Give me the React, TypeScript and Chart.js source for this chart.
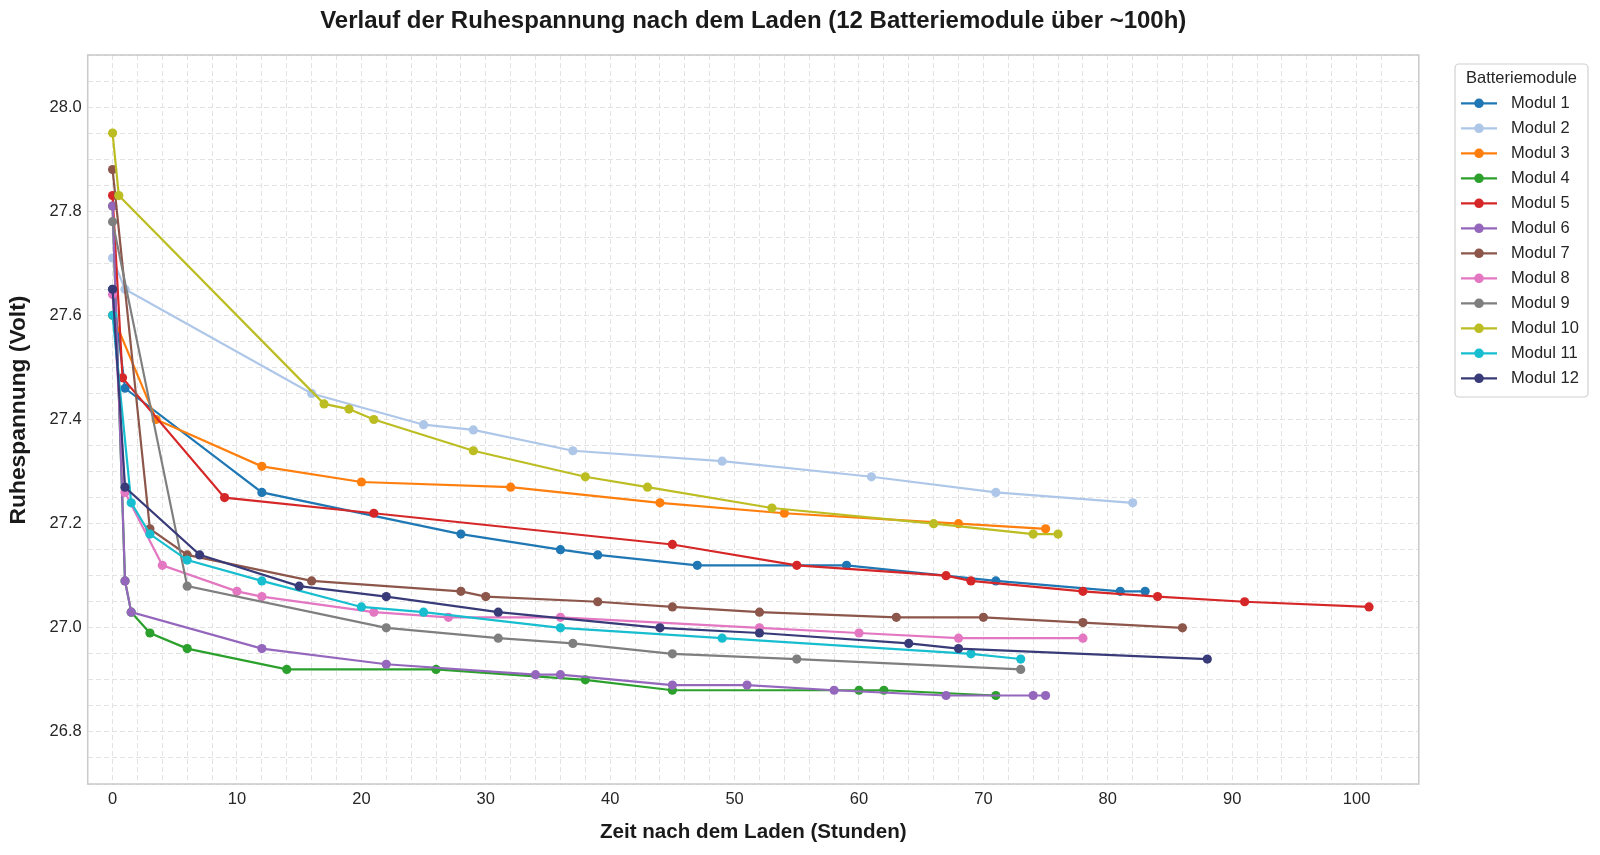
import React, { useEffect, useRef } from 'react';
import { Chart, registerables } from 'chart.js';

Chart.register(...registerables);

const FONT = '"Liberation Sans", Arial, sans-serif';
const TITLE = 'Verlauf der Ruhespannung nach dem Laden (12 Batteriemodule über ~100h)';
const X_TITLE = 'Zeit nach dem Laden (Stunden)';
const Y_TITLE = 'Ruhespannung (Volt)';
const LEGEND_TITLE = 'Batteriemodule';

const modulNames = [
    'Modul 1', 'Modul 2', 'Modul 3', 'Modul 4', 'Modul 5', 'Modul 6',
    'Modul 7', 'Modul 8', 'Modul 9', 'Modul 10', 'Modul 11', 'Modul 12',
];
const modulColors = [
    '#1f77b4', '#aec7e8', '#ff7f0e', '#2ca02c', '#d62728', '#9467bd',
    '#8c564b', '#e377c2', '#7f7f7f', '#bcbd22', '#17becf', '#393b79',
];

// hours after charging / rest voltage, per module
const modul1Hours = [0, 1, 12, 28, 36, 39, 47, 59, 71, 81, 83];
const modul1Volts = [27.65, 27.46, 27.26, 27.18, 27.15, 27.14, 27.12, 27.12, 27.09, 27.07, 27.07];

const modul2Hours = [0, 1, 16, 25, 29, 37, 49, 61, 71, 82];
const modul2Volts = [27.71, 27.65, 27.45, 27.39, 27.38, 27.34, 27.32, 27.29, 27.26, 27.24];

const modul3Hours = [0, 3.5, 12, 20, 32, 44, 54, 68, 75];
const modul3Volts = [27.6, 27.4, 27.31, 27.28, 27.27, 27.24, 27.22, 27.2, 27.19];

const modul4Hours = [0, 1, 1.5, 3, 6, 14, 26, 38, 45, 60, 62, 71];
const modul4Volts = [27.81, 27.09, 27.03, 26.99, 26.96, 26.92, 26.92, 26.9, 26.88, 26.88, 26.88, 26.87];

const modul5Hours = [0, 0.8, 9, 21, 45, 55, 67, 69, 78, 84, 91, 101];
const modul5Volts = [27.83, 27.48, 27.25, 27.22, 27.16, 27.12, 27.1, 27.09, 27.07, 27.06, 27.05, 27.04];

const modul6Hours = [0, 1, 1.5, 12, 22, 34, 36, 45, 51, 58, 67, 74, 75];
const modul6Volts = [27.81, 27.09, 27.03, 26.96, 26.93, 26.91, 26.91, 26.89, 26.89, 26.88, 26.87, 26.87, 26.87];

const modul7Hours = [0, 3, 6, 16, 28, 30, 39, 45, 52, 63, 70, 78, 86];
const modul7Volts = [27.88, 27.19, 27.14, 27.09, 27.07, 27.06, 27.05, 27.04, 27.03, 27.02, 27.02, 27.01, 27.0];

const modul8Hours = [0, 1, 4, 10, 12, 21, 27, 36, 52, 60, 68, 78];
const modul8Volts = [27.64, 27.26, 27.12, 27.07, 27.06, 27.03, 27.02, 27.02, 27.0, 26.99, 26.98, 26.98];

const modul9Hours = [0, 6, 22, 31, 37, 45, 55, 73];
const modul9Volts = [27.78, 27.08, 27.0, 26.98, 26.97, 26.95, 26.94, 26.92];

const modul10Hours = [0, 0.5, 17, 19, 21, 29, 38, 43, 53, 66, 74, 76];
const modul10Volts = [27.95, 27.83, 27.43, 27.42, 27.4, 27.34, 27.29, 27.27, 27.23, 27.2, 27.18, 27.18];

const modul11Hours = [0, 1.5, 3, 6, 12, 20, 25, 36, 49, 69, 73];
const modul11Volts = [27.6, 27.24, 27.18, 27.13, 27.09, 27.04, 27.03, 27.0, 26.98, 26.95, 26.94];

const modul12Hours = [0, 1, 7, 15, 22, 31, 44, 52, 64, 68, 88];
const modul12Volts = [27.65, 27.27, 27.14, 27.08, 27.06, 27.03, 27.0, 26.99, 26.97, 26.96, 26.94];

const xTickLabels = [0, 10, 20, 30, 40, 50, 60, 70, 80, 90, 100];
const yTickLabels = [26.8, 27.0, 27.2, 27.4, 27.6, 27.8, 28.0];

const series: [number[], number[]][] = [
    [modul1Hours, modul1Volts],
    [modul2Hours, modul2Volts],
    [modul3Hours, modul3Volts],
    [modul4Hours, modul4Volts],
    [modul5Hours, modul5Volts],
    [modul6Hours, modul6Volts],
    [modul7Hours, modul7Volts],
    [modul8Hours, modul8Volts],
    [modul9Hours, modul9Volts],
    [modul10Hours, modul10Volts],
    [modul11Hours, modul11Volts],
    [modul12Hours, modul12Volts],
];

// title, axis titles, frame and boxed legend drawn on top of the chart
const overlayPlugin = {
    id: 'overlay',
    afterDraw(chart: Chart) {
        const { ctx, chartArea } = chart;
        const { left, right, top, bottom } = chartArea;
        ctx.save();

        ctx.strokeStyle = '#cccccc';
        ctx.lineWidth = 1.6;
        ctx.strokeRect(left, top, right - left, bottom - top);

        ctx.fillStyle = '#1a1a1a';
        ctx.textAlign = 'center';
        ctx.textBaseline = 'middle';
        ctx.font = `bold 24px ${FONT}`;
        ctx.fillText(TITLE, (left + right) / 2, 21);

        ctx.font = `bold 20.6px ${FONT}`;
        ctx.fillText(X_TITLE, (left + right) / 2, 832);

        ctx.save();
        ctx.translate(19, 410);
        ctx.rotate(-Math.PI / 2);
        ctx.font = `bold 22.8px ${FONT}`;
        ctx.fillText(Y_TITLE, 0, 0);
        ctx.restore();

        // legend box
        const bx = 1455, by = 64, bw = 133, bh = 333;
        ctx.beginPath();
        ctx.roundRect(bx, by, bw, bh, 4);
        ctx.fillStyle = 'rgba(255,255,255,0.9)';
        ctx.fill();
        ctx.strokeStyle = '#d0d0d0';
        ctx.lineWidth = 1.2;
        ctx.stroke();

        ctx.fillStyle = '#262626';
        ctx.font = `16.5px ${FONT}`;
        ctx.fillText(LEGEND_TITLE, bx + bw / 2, 78);

        ctx.textAlign = 'left';
        modulNames.forEach((name, i) => {
            const y = 103.3 + i * 25;
            ctx.strokeStyle = modulColors[i];
            ctx.lineWidth = 2.2;
            ctx.beginPath();
            ctx.moveTo(1461, y);
            ctx.lineTo(1497, y);
            ctx.stroke();
            ctx.fillStyle = modulColors[i];
            ctx.beginPath();
            ctx.arc(1479, y, 4.8, 0, Math.PI * 2);
            ctx.fill();
            ctx.fillStyle = '#262626';
            ctx.fillText(name, 1511, y);
        });

        ctx.restore();
    },
};

const RestVoltageChart: React.FC = () => {
    const canvasRef = useRef<HTMLCanvasElement>(null);
    const chartRef = useRef<Chart | null>(null);

    useEffect(() => {
        if (!canvasRef.current) return;
        if (chartRef.current) {
            chartRef.current.destroy();
        }

        const datasets = series.map(([hours, volts], i) => ({
            label: modulNames[i],
            data: hours.map((h, j) => ({ x: h, y: volts[j] })),
            borderColor: modulColors[i],
            backgroundColor: modulColors[i],
            pointBackgroundColor: modulColors[i],
            pointBorderWidth: 0,
            pointRadius: 4.6,
            borderWidth: 2.2,
            tension: 0,
            // later modules on top, like the original
            order: series.length - i,
        }));

        chartRef.current = new Chart(canvasRef.current, {
            type: 'line',
            data: { datasets },
            plugins: [overlayPlugin],
            options: {
                animation: false,
                responsive: false,
                devicePixelRatio: 1,
                layout: {
                    padding: { left: 0, top: 55, right: 181.2, bottom: 0 },
                },
                plugins: {
                    legend: { display: false },
                    title: { display: false },
                    tooltip: { enabled: false },
                },
                scales: {
                    x: {
                        type: 'linear',
                        min: -2,
                        max: 105,
                        afterFit: (scale: any) => {
                            scale.height = 71;
                        },
                        ticks: {
                            stepSize: 2,
                            autoSkip: false,
                            maxRotation: 0,
                            padding: 6,
                            color: '#262626',
                            font: { family: FONT, size: 16.5 },
                            callback: (v: any) => (xTickLabels.includes(Number(v)) ? String(v) : ''),
                        },
                        grid: {
                            color: '#e2e2e2',
                            lineWidth: 1,
                            drawTicks: false,
                        },
                        border: { display: false, dash: [5, 3] },
                    },
                    y: {
                        type: 'linear',
                        min: 26.7,
                        max: 28.1,
                        afterFit: (scale: any) => {
                            scale.width = 87.7;
                        },
                        ticks: {
                            stepSize: 0.05,
                            autoSkip: false,
                            padding: 6,
                            color: '#262626',
                            font: { family: FONT, size: 16.5 },
                            callback: (v: any) => {
                                const n = Number(v);
                                const hit = yTickLabels.find((t) => Math.abs(t - n) < 1e-6);
                                return hit !== undefined ? hit.toFixed(1) : '';
                            },
                        },
                        grid: {
                            color: '#e2e2e2',
                            lineWidth: 1,
                            drawTicks: false,
                        },
                        border: { display: false, dash: [5, 3] },
                    },
                },
            },
        });

        return () => {
            if (chartRef.current) {
                chartRef.current.destroy();
                chartRef.current = null;
            }
        };
    }, []);

    return (
        <div style={{ width: 1600, height: 855, background: '#ffffff' }}>
            <canvas ref={canvasRef} width={1600} height={855} style={{ width: 1600, height: 855, display: 'block' }} />
        </div>
    );
};

export default function App() {
    useEffect(() => {
        document.body.style.margin = '0';
    }, []);
    return <RestVoltageChart />;
}
